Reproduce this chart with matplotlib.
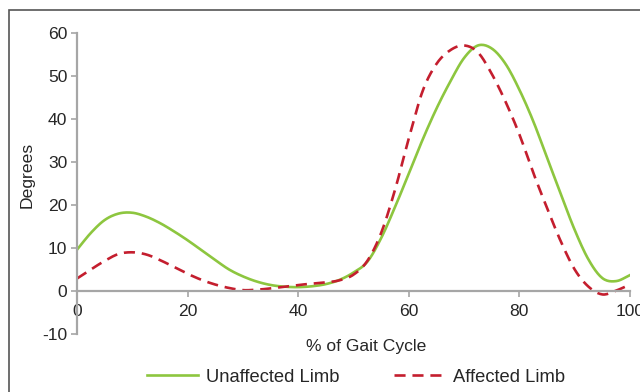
import matplotlib
matplotlib.use("Agg")
import numpy as np
import matplotlib.pyplot as plt
from matplotlib.patches import Rectangle

plt.rcParams['font.family'] = ['Liberation Sans', 'DejaVu Sans']
plt.rcParams['axes.unicode_minus'] = False

gait_pct = [0, 2.5, 5, 7.5, 10, 12.5, 15, 17.5, 20, 22.5, 25, 27.5, 30, 32.5, 35, 37.5,
            40, 42.5, 45, 47.5, 50, 52.5, 55, 57.5, 60, 62.5, 65, 67.5, 70, 72.5, 75,
            77.5, 80, 82.5, 85, 87.5, 90, 92.5, 95, 97.5, 100]
unaffected = [9.6, 13.5, 16.5, 18.0, 18.2, 17.3, 15.8, 13.9, 11.8, 9.5, 7.2, 5.0, 3.4, 2.2,
              1.4, 1.0, 0.9, 1.1, 1.6, 2.6, 4.3, 6.8, 12.3, 19.5, 27.3, 35.2, 42.4, 48.7,
              54.2, 57.1, 56.4, 52.8, 46.8, 39.5, 31.0, 22.5, 14.2, 7.3, 3.0, 2.3, 3.7]
affected = [2.9, 5.0, 7.0, 8.6, 9.0, 8.5, 7.2, 5.6, 4.0, 2.6, 1.5, 0.7, 0.2, 0.3, 0.6, 1.0,
            1.4, 1.7, 2.0, 2.5, 3.8, 7.0, 13.5, 23.5, 35.5, 46.5, 52.8, 56.0, 57.1, 55.5,
            50.5, 44.0, 36.4, 27.5, 19.3, 11.5, 5.0, 1.0, -0.8, 0.1, 1.5]
x_ticks = [0, 20, 40, 60, 80, 100]
y_ticks = [-10, 0, 10, 20, 30, 40, 50, 60]


def smooth(xs, ys, n=12):
    """Catmull-Rom curve through the given points (like a smoothed line)."""
    x = np.asarray(xs, float)
    y = np.asarray(ys, float)
    xp = np.concatenate([[2 * x[0] - x[1]], x, [2 * x[-1] - x[-2]]])
    yp = np.concatenate([[2 * y[0] - y[1]], y, [2 * y[-1] - y[-2]]])
    t = np.linspace(0, 1, n, endpoint=False)
    ox, oy = [], []
    for i in range(1, len(xp) - 2):
        for arr, out in ((xp, ox), (yp, oy)):
            p0, p1, p2, p3 = arr[i - 1], arr[i], arr[i + 1], arr[i + 2]
            out.extend(0.5 * ((2 * p1) + (-p0 + p2) * t + (2 * p0 - 5 * p1 + 4 * p2 - p3) * t ** 2
                              + (-p0 + 3 * p1 - 3 * p2 + p3) * t ** 3))
    ox.append(x[-1])
    oy.append(y[-1])
    return ox, oy


fig = plt.figure(figsize=(6.4, 3.92), dpi=100)
ax = fig.add_axes([77/640, 1-334/392, (630-77)/640, (334-33)/392])

green = '#8dc63f'
red = '#c41e2e'
ax.plot(*smooth(gait_pct, unaffected), color=green, lw=1.9, label='Unaffected Limb')
ax.plot(*smooth(gait_pct, affected), color=red, lw=1.9, ls=(0, (4.2, 2.6)),
        label='Affected Limb')

ax.set_xlim(0, 100)
ax.set_ylim(-10, 60)
ax.set_xticks(x_ticks)
ax.set_yticks(y_ticks)
spine_c = '#a6a6a6'
for s in ['top', 'right']:
    ax.spines[s].set_visible(False)
ax.spines['bottom'].set_position(('data', 0))
for s in ['left', 'bottom']:
    ax.spines[s].set_color(spine_c)
    ax.spines[s].set_linewidth(1.6)
fs = 12.6
ax.tick_params(axis='both', colors=spine_c, labelcolor='#262626', labelsize=fs,
               length=4, width=1.2)
ax.tick_params(axis='x', pad=5)
ax.tick_params(axis='y', pad=3)

fig.text(27/640, 1-175/392, 'Degrees', fontsize=fs, color='#262626', rotation=90,
         ha='center', va='center')
fig.text(366/640, 1-346/392, '% of Gait Cycle', fontsize=fs, color='#262626',
         ha='center', va='center')

leg = fig.legend(loc='center', bbox_to_anchor=(356/640, 1-377/392), ncol=2,
                 frameon=False, fontsize=13.2, handlelength=2.8, columnspacing=3.0,
                 handletextpad=0.4, labelcolor='#262626')

fig.patches.append(Rectangle((9/640, -0.1), 1.2, 1 - 10/392 + 0.1, transform=fig.transFigure,
                             fill=False, edgecolor='#555555', lw=1.2))

fig.savefig('out.png', dpi=100)
